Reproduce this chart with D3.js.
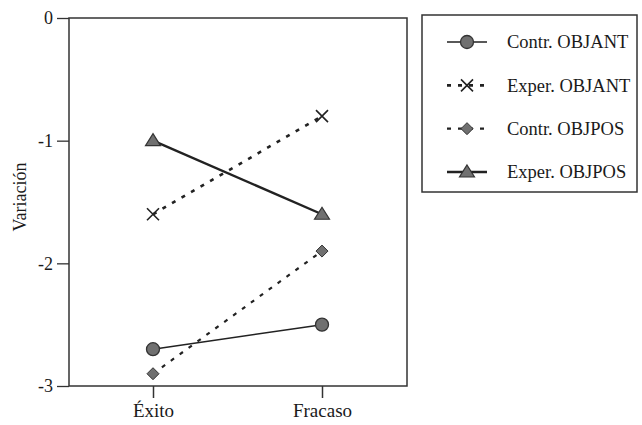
<!DOCTYPE html>
<html><head><meta charset="utf-8">
<script src="https://cdn.jsdelivr.net/npm/d3@7"></script>
<style>body{margin:0;background:#fff}svg{display:block}text{font-family:"Liberation Serif","Times New Roman",serif;fill:#1a1a1a}</style>
</head><body><svg id="c" width="642" height="425"></svg>
<script>
const categories = ["Éxito", "Fracaso"];
const seriesNames = ["Contr. OBJANT", "Exper. OBJANT", "Contr. OBJPOS", "Exper. OBJPOS"];
const contrObjant = [-2.7, -2.5];
const experObjant = [-1.6, -0.8];
const contrObjpos = [-2.9, -1.9];
const experObjpos = [-1.0, -1.6];
const yTicks = [0, -1, -2, -3];

const series = [
  {name: seriesNames[0], values: contrObjant, marker: "circle", width: 1.6, dash: null},
  {name: seriesNames[1], values: experObjant, marker: "cross", width: 2.6, dash: "4,7"},
  {name: seriesNames[2], values: contrObjpos, marker: "diamond", width: 2.2, dash: "4,7"},
  {name: seriesNames[3], values: experObjpos, marker: "triangle", width: 2.4, dash: null}
];

const svg = d3.select("#c");
const L = 69, R = 407, T = 18, B = 386;
const x = d3.scalePoint().domain(categories).range([153, 322]);
const y = d3.scaleLinear().domain([-3, 0]).range([B, T]);

svg.append("rect").attr("x", L).attr("y", T).attr("width", R - L).attr("height", B - T)
  .attr("fill", "none").attr("stroke", "#333").attr("stroke-width", 1.5);

const ya = svg.append("g").attr("transform", `translate(${L},0)`)
  .call(d3.axisLeft(y).tickValues(yTicks).tickFormat(d => String(d)).tickSize(12).tickPadding(4));
ya.select(".domain").remove();
ya.selectAll("line").attr("stroke", "#333").attr("stroke-width", 1.3);
ya.selectAll("text").style("font-size", "18px").attr("fill", "#1a1a1a").style("font-family", "Liberation Serif");

const xa = svg.append("g").attr("transform", `translate(0,${B})`)
  .call(d3.axisBottom(x).tickSize(12).tickPadding(6));
xa.select(".domain").remove();
xa.selectAll("line").attr("stroke", "#333").attr("stroke-width", 1.5);
xa.selectAll("text").style("font-size", "19px").attr("fill", "#1a1a1a").style("font-family", "Liberation Serif");

svg.append("text").attr("transform", "translate(26,197) rotate(-90)")
  .attr("text-anchor", "middle").style("font-size", "18px").text("Variación");

function drawMarker(g, type, cx, cy) {
  const fill = "#707070", st = "#333";
  if (type === "circle") {
    g.append("circle").attr("cx", cx).attr("cy", cy).attr("r", 6.5).attr("fill", fill).attr("stroke", st).attr("stroke-width", 1.3);
  } else if (type === "diamond") {
    const s = 6;
    g.append("path").attr("d", `M${cx},${cy-s}L${cx+s},${cy}L${cx},${cy+s}L${cx-s},${cy}Z`)
      .attr("fill", fill).attr("stroke", st).attr("stroke-width", 1);
  } else if (type === "triangle") {
    g.append("path").attr("d", `M${cx},${cy-7}L${cx+7.5},${cy+5}L${cx-7.5},${cy+5}Z`)
      .attr("fill", fill).attr("stroke", st).attr("stroke-width", 1.2);
  } else if (type === "cross") {
    const s = 6;
    g.append("path").attr("d", `M${cx-s},${cy-s}L${cx+s},${cy+s}M${cx-s},${cy+s}L${cx+s},${cy-s}`)
      .attr("stroke", "#222").attr("stroke-width", 1.6).attr("fill", "none");
  }
}

const line = d3.line().x((d, i) => x(categories[i])).y(d => y(d));
series.forEach(s => {
  svg.append("path").attr("d", line(s.values)).attr("fill", "none").attr("stroke", "#222")
    .attr("stroke-width", s.width).attr("stroke-dasharray", s.dash);
});
series.forEach(s => {
  const g = svg.append("g");
  s.values.forEach((v, i) => drawMarker(g, s.marker, x(categories[i]), y(v)));
});

svg.append("rect").attr("x", 422).attr("y", 15).attr("width", 215).attr("height", 177)
  .attr("fill", "none").attr("stroke", "#333").attr("stroke-width", 1.5);
const ly = d3.scalePoint().domain(seriesNames).range([42, 172]);
series.forEach(s => {
  const g = svg.append("g");
  const yy = ly(s.name);
  g.append("line").attr("x1", 447).attr("x2", 487).attr("y1", yy).attr("y2", yy)
    .attr("stroke", "#222").attr("stroke-width", s.width).attr("stroke-dasharray", s.dash ? "4,7" : null);
  drawMarker(g, s.marker, 467, yy);
  g.append("text").attr("x", 507).attr("y", yy).attr("dy", "0.35em").style("font-size", "18.5px").text(s.name);
});
</script></body></html>
